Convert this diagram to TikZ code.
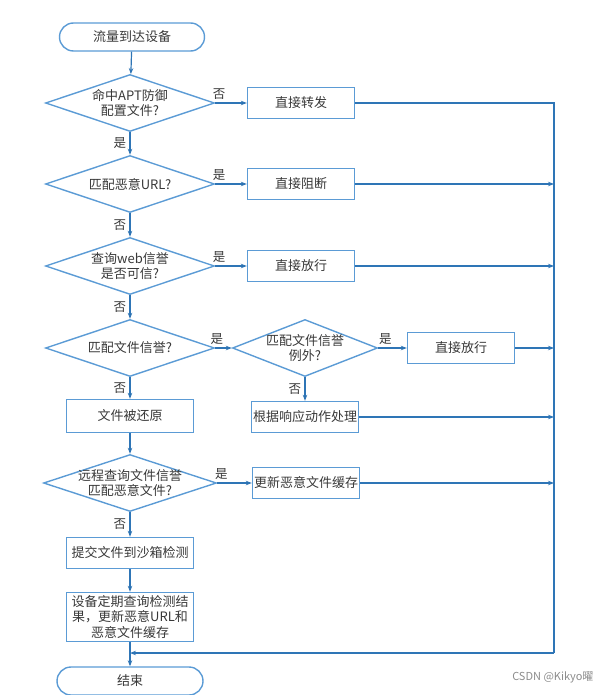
\documentclass[tikz,border=0pt]{standalone}
\usepackage{fontspec}
\setmainfont{Noto Sans CJK SC}
\usetikzlibrary{shapes.geometric,arrows.meta}
\definecolor{lineblue}{RGB}{46,117,182}
\definecolor{boxblue}{RGB}{91,155,213}
\begin{document}
\begin{tikzpicture}[x=1pt,y=-1pt,
  font=\fontsize{13}{15.5}\selectfont,
  every node/.append style={text=black!78},
  term/.style={shape=rectangle,rounded corners=14pt,draw=boxblue,line width=1.4pt,minimum width=145pt,minimum height=28pt},
  act/.style={shape=rectangle,draw=boxblue,line width=1.4pt,minimum width=107pt,minimum height=31pt,inner sep=1pt,align=center},
  test/.style={shape=diamond,draw=boxblue,line width=1.4pt,aspect=3,inner xsep=-13pt,inner ysep=0pt,minimum width=169pt,minimum height=57pt,align=center},
  flow/.style={draw=lineblue,line width=1.2pt,-{Stealth[length=6pt,width=4.5pt]}},
  yn/.style={font=\fontsize{12.5}{14}\selectfont}]
\useasboundingbox (0,0) rectangle (611,695);

\node(start) at (132,37)[term]  {流量到达设备};
\node(q1) at (130,103)[test]    {命中APT防御\\配置文件?};
\node(b1) at (301,103)[act]     {直接转发};
\node(q2) at (130,184)[test]    {匹配恶意URL?};
\node(b2) at (301,184)[act]     {直接阻断};
\node(q3) at (130,266)[test]    {查询web信誉\\是否可信?};
\node(b3) at (301,266)[act]     {直接放行};
\node(q4) at (130,348)[test]    {匹配文件信誉?};
\node(q5) at (305,348)[test,minimum width=145pt] {匹配文件信誉\\例外?};
\node(b4) at (461,348)[act]     {直接放行};
\node(b5) at (130,416)[act,minimum width=127pt,minimum height=33pt] {文件被还原};
\node(b6) at (305,417)[act]     {根据响应动作处理};
\node(q6) at (130,483)[test,minimum width=173pt] {远程查询文件信誉\\匹配恶意文件?};
\node(b7) at (306,483)[act]     {更新恶意文件缓存};
\node(b8) at (130,553)[act,minimum width=127pt] {提交文件到沙箱检测};
\node(b9) at (130,617)[act,minimum width=127pt,minimum height=49pt] {设备定期查询检测结\\果，更新恶意URL和\\恶意文件缓存};
\node(end) at (130,681)[term,minimum width=146pt] {结束};
\coordinate(rt) at (554,653);
\node(mark) at (597,677)[anchor=east,text=black!45,font=\fontsize{11}{13}\selectfont] {CSDN @Kikyo曜};

\path [flow]
  (start)  edge                              (q1)
  (q1)     edge  node [left,yn]         {是} (q2)
  (q1)     edge  node [above,yn,pos=0.12] {否} (b1)
  (q2)     edge  node [above,yn,pos=0.12] {是} (b2)
  (q2)     edge  node [left,yn]         {否} (q3)
  (q3)     edge  node [above,yn,pos=0.12] {是} (b3)
  (q3)     edge  node [left,yn]         {否} (q4)
  (q4)     edge  node [above,yn,pos=0.1]  {是} (q5)
  (q5)     edge  node [above,yn,pos=0.25] {是} (b4)
  (q4)     edge  node [left,yn]         {否} (b5)
  (q5)     edge  node [left,yn]         {否} (b6)
  (b5)     edge                              (q6)
  (q6)     edge  node [above,yn,pos=0.12] {是} (b7)
  (q6)     edge  node [left,yn]         {否} (b8)
  (b8)     edge                              (b9)
  (b9)     edge                              (end);

\draw [flow,-] (b1.east) -| (rt);
\draw [flow] (rt) -- (rt -| end);
\draw [flow] (b2) -- (b2 -| rt);
\draw [flow] (b3) -- (b3 -| rt);
\draw [flow] (b4) -- (b4 -| rt);
\draw [flow] (b6) -- (b6 -| rt);
\draw [flow] (b7) -- (b7 -| rt);

\end{tikzpicture}
\end{document}
